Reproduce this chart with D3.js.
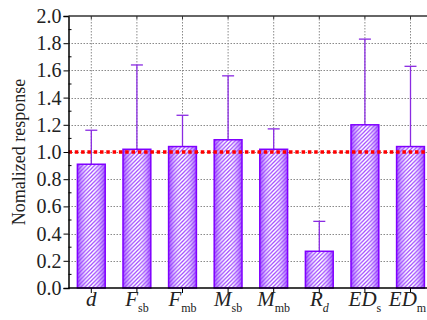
<!DOCTYPE html>
<html>
<head>
<meta charset="utf-8">
<script src="https://cdn.jsdelivr.net/npm/d3@7"></script>
<style>
  body { margin: 0; background: #fff; }
  svg { display: block; }
</style>
</head>
<body>
<div id="chart"></div>
<script>
// Data
const categories = ['d', 'Fsb', 'Fmb', 'Msb', 'Mmb', 'Rd', 'EDs', 'EDm'];
const mainLabels = ['d', 'F', 'F', 'M', 'M', 'R', 'ED', 'ED'];
const subLabels = ['', 'sb', 'mb', 'sb', 'mb', 'd', 's', 'm'];
const values = [0.91, 1.02, 1.04, 1.09, 1.02, 0.27, 1.20, 1.04];
const errTops = [1.16, 1.64, 1.27, 1.56, 1.17, 0.49, 1.83, 1.63];
const yTicks = [0, 0.2, 0.4, 0.6, 0.8, 1.0, 1.2, 1.4, 1.6, 1.8, 2.0];
const refValue = 1.0;

const width = 427, height = 320;
const plotLeft = 68.5, plotTop = 16, plotBottom = 288;
const purple = '#8000ff';
const serif = "'Liberation Serif'";

const svg = d3.select('#chart').append('svg')
    .attr('width', width)
    .attr('height', height);

const x = d3.scaleBand()
    .domain(categories)
    .range([plotLeft, plotLeft + 8 * 45.6])
    .paddingInner(0.39)
    .paddingOuter(0.195);

const y = d3.scaleLinear()
    .domain([0, 2])
    .range([plotBottom, plotTop]);

const defs = svg.append('defs');

// hatch pattern
const pat = defs.append('pattern')
    .attr('id', 'hatch')
    .attr('patternUnits', 'userSpaceOnUse')
    .attr('width', 4)
    .attr('height', 4);
pat.append('rect').attr('width', 4).attr('height', 4).attr('fill', '#fff');
pat.append('path')
    .attr('d', 'M-1,1 l2,-2 M0,4 l4,-4 M3,5 l2,-2')
    .attr('stroke', '#9a3cff')
    .attr('stroke-width', 1.3);

// shading across each bar: darker at the edges
const grad = defs.append('linearGradient')
    .attr('id', 'shade')
    .attr('x1', '0%').attr('x2', '100%')
    .attr('y1', '0%').attr('y2', '0%');
grad.append('stop').attr('offset', '0%').attr('stop-color', '#8a2bff').attr('stop-opacity', 0.8);
grad.append('stop').attr('offset', '50%').attr('stop-color', '#ffffff').attr('stop-opacity', 0.1);
grad.append('stop').attr('offset', '100%').attr('stop-color', '#8a2bff').attr('stop-opacity', 0.8);

// grid
const grid = svg.append('g')
    .attr('stroke', '#8a8a8a')
    .attr('stroke-width', 1)
    .attr('stroke-dasharray', '1.5,1.5');
grid.selectAll('line.h')
    .data(yTicks.filter(t => t > 0 && t < 2))
    .enter().append('line')
    .attr('x1', plotLeft)
    .attr('x2', width)
    .attr('y1', d => Math.round(y(d)) + 0.5)
    .attr('y2', d => Math.round(y(d)) + 0.5);
grid.selectAll('line.v')
    .data(categories)
    .enter().append('line')
    .attr('x1', d => x(d) + x.bandwidth() / 2)
    .attr('x2', d => x(d) + x.bandwidth() / 2)
    .attr('y1', plotTop)
    .attr('y2', plotBottom);

// error bars (upper only)
const err = svg.append('g')
    .attr('stroke', '#8a2be2')
    .attr('stroke-width', 1.3);
categories.forEach((c, i) => {
    const cx = x(c) + x.bandwidth() / 2;
    err.append('line')
        .attr('x1', cx).attr('x2', cx)
        .attr('y1', y(values[i])).attr('y2', y(errTops[i]));
    err.append('line')
        .attr('x1', cx - 6).attr('x2', cx + 6)
        .attr('y1', y(errTops[i])).attr('y2', y(errTops[i]));
});

// bars
const bars = svg.append('g');
bars.selectAll('rect.fill')
    .data(values)
    .enter().append('rect')
    .attr('x', (d, i) => x(categories[i]))
    .attr('y', d => y(d))
    .attr('width', x.bandwidth())
    .attr('height', d => plotBottom - y(d))
    .attr('fill', 'url(#hatch)');
bars.selectAll('rect.shade')
    .data(values)
    .enter().append('rect')
    .attr('x', (d, i) => x(categories[i]))
    .attr('y', d => y(d))
    .attr('width', x.bandwidth())
    .attr('height', d => plotBottom - y(d))
    .attr('fill', 'url(#shade)')
    .attr('stroke', purple)
    .attr('stroke-width', 1.5);

// reference line at 1.0
svg.append('line')
    .attr('x1', plotLeft)
    .attr('x2', width)
    .attr('y1', y(refValue))
    .attr('y2', y(refValue))
    .attr('stroke', '#ff0000')
    .attr('stroke-width', 3.5)
    .attr('stroke-dasharray', '3.5,2.8');

// axes
const yAxis = svg.append('g')
    .attr('transform', `translate(${plotLeft},0)`)
    .call(d3.axisLeft(y).tickValues(yTicks).tickFormat(d3.format('.1f')).tickSize(5).tickPadding(2));
yAxis.select('.domain').attr('stroke', '#000').attr('stroke-width', 1.5);
yAxis.selectAll('text')
    .style('font-family', serif)
    .attr('font-size', 20)
    .attr('fill', '#222');

// minor ticks inside
svg.append('g')
    .selectAll('line')
    .data(d3.range(0.1, 2, 0.2))
    .enter().append('line')
    .attr('x1', plotLeft)
    .attr('x2', plotLeft + 3)
    .attr('y1', d => y(d))
    .attr('y2', d => y(d))
    .attr('stroke', '#000');

const xAxis = svg.append('g')
    .attr('transform', `translate(0,${plotBottom})`)
    .call(d3.axisBottom(x).tickSize(5).tickFormat(''));
xAxis.select('.domain').attr('stroke', '#000').attr('stroke-width', 1.5).attr('d', `M${plotLeft},0H${width}`);

// top border with ticks
svg.append('line')
    .attr('x1', plotLeft).attr('x2', width)
    .attr('y1', plotTop).attr('y2', plotTop)
    .attr('stroke', '#333').attr('stroke-width', 1.5);
svg.append('g')
    .selectAll('line')
    .data(categories)
    .enter().append('line')
    .attr('x1', d => x(d) + x.bandwidth() / 2)
    .attr('x2', d => x(d) + x.bandwidth() / 2)
    .attr('y1', plotTop)
    .attr('y2', plotTop + 3)
    .attr('stroke', '#333');

// x labels with subscripts
const labels = svg.append('g')
    .attr('fill', '#222');
categories.forEach((c, i) => {
    const last = i === categories.length - 1;
    const t = labels.append('text')
        .style('font-family', serif)
        .attr('x', x(c) + x.bandwidth() / 2 + (last ? -3 : 0))
        .attr('y', 306)
        .attr('text-anchor', 'middle');
    t.append('tspan')
        .attr('font-style', 'italic')
        .attr('font-size', 21)
        .text(mainLabels[i]);
    if (subLabels[i]) {
        t.append('tspan')
            .attr('font-size', 12)
            .attr('dy', 6)
            .attr('font-style', c === 'Rd' ? 'italic' : 'normal')
            .text(subLabels[i]);
    }
});

// y axis title
svg.append('text')
    .style('font-family', serif)
    .attr('transform', `translate(25,${(plotTop + plotBottom) / 2}) rotate(-90)`)
    .attr('text-anchor', 'middle')
    .attr('font-size', 18)
    .attr('fill', '#222')
    .text('Nomalized response');
</script>
</body>
</html>
